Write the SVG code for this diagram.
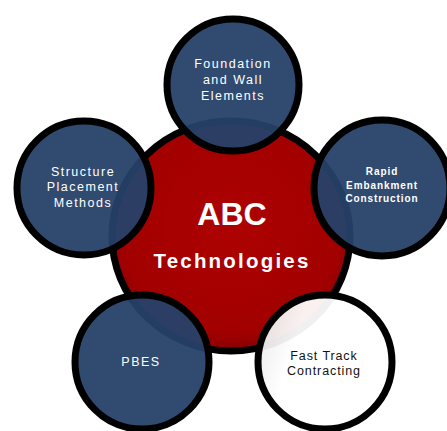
<svg xmlns="http://www.w3.org/2000/svg" width="447" height="431" viewBox="0 0 447 431">
<style>
.ring{stroke:#000;stroke-width:7}
.blue{fill:#264168;fill-opacity:0.95}
.t{font-family:"Liberation Sans",Arial,sans-serif;text-anchor:middle;fill:#fff}
.s{font-size:12.5px;letter-spacing:1.5px}
</style>
<defs>
<radialGradient id="red" cx="50%" cy="45%" r="55%">
<stop offset="0" stop-color="#ad0202"/>
<stop offset="0.85" stop-color="#a20000"/>
<stop offset="1" stop-color="#8a0000"/>
</radialGradient>
<linearGradient id="wht" x1="0" y1="0" x2="1" y2="0.3">
<stop offset="0" stop-color="#e6e6e6"/>
<stop offset="0.35" stop-color="#fff"/>
<stop offset="1" stop-color="#fff"/>
</linearGradient>
</defs>
<rect width="447" height="431" fill="#fff"/>
<g id="center">
<ellipse cx="231" cy="236" rx="119" ry="115" fill="url(#red)" class="ring"/>
<text class="t" x="232" y="225" font-size="32" font-weight="bold">ABC</text>
<text class="t" x="232" y="268" font-size="20.5" font-weight="bold" letter-spacing="2.2">Technologies</text>
</g>
<g id="connectors"/>
<g id="foundation">
<circle cx="233" cy="85" r="66" class="ring blue"/>
<text class="t s" x="233" y="68">Foundation</text>
<text class="t s" x="233" y="84">and Wall</text>
<text class="t s" x="233" y="100">Elements</text>
</g>
<g id="rapid">
<circle cx="382" cy="188" r="68" class="ring blue"/>
<text class="t" x="382" y="175" font-size="10" font-weight="bold" letter-spacing="0.9">Rapid</text>
<text class="t" x="382" y="189" font-size="10" font-weight="bold" letter-spacing="0.9">Embankment</text>
<text class="t" x="382" y="202" font-size="10" font-weight="bold" letter-spacing="0.9">Construction</text>
</g>
<g id="structure">
<circle cx="84" cy="188" r="67" class="ring blue"/>
<text class="t s" x="83" y="176">Structure</text>
<text class="t s" x="83" y="191">Placement</text>
<text class="t s" x="83" y="207">Methods</text>
</g>
<g id="pbes">
<circle cx="142" cy="362" r="67" class="ring blue"/>
<text class="t s" x="141" y="366" letter-spacing="2">PBES</text>
</g>
<g id="fasttrack">
<circle cx="325" cy="362" r="67" class="ring" fill="url(#wht)" fill-opacity="0.94"/>
<text class="t" x="324" y="360" font-size="12.5" letter-spacing="0.9" style="fill:#111">Fast Track</text>
<text class="t" x="324" y="375" font-size="12.5" letter-spacing="0.9" style="fill:#111">Contracting</text>
</g>
</svg>
